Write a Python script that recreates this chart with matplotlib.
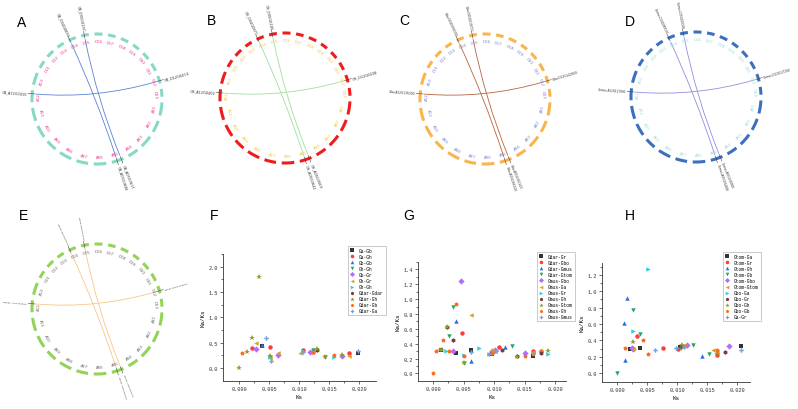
import numpy as np
import matplotlib
matplotlib.use("Agg")
import matplotlib.pyplot as plt
from matplotlib.path import Path
from matplotlib.patches import PathPatch

W, H = 798, 410

# ---- circos data (shared layout) ----
chrom_names = ["A01", "A02", "A03", "A04", "A05", "A06", "A07", "A08", "A09", "A10", "A11", "A12", "A13",
               "D01", "D02", "D03", "D04", "D05", "D06", "D07", "D08", "D09", "D10", "D11", "D12", "D13"]
chrom_sizes = [118, 108, 113, 96, 109, 112, 106, 114, 98, 112, 118, 107, 110,
               70, 72, 66, 68, 70, 71, 68, 72, 66, 70, 73, 68, 70]

# segmental duplication links: (chrom1, pos1, chrom2, pos2) in Mb
link_pairs = [("D04", 11, "A05", 60), ("D05", 29, "A05", 20), ("A12", 76, "D12", 44)]

genes_A = ["GB_D04G0893", "GB_A05G3698", "GB_D05G0197", "GB_A05G3617", "GB_A12G0410", "GB_D12G0414"]
genes_B = ["GH_D04G0871", "GH_A05G3641", "GH_D05G0185", "GH_A05G3569", "GH_A12G0402", "GH_D12G0408"]
genes_C = ["Gdar.D04G090300", "Gdar.A05G365200", "Gdar.D05G019700", "Gdar.A05G361400",
           "Gdar.A12G136300", "Gdar.D12G142800"]
genes_D = ["Gomus.D04G089100", "Gomus.A05G364800", "Gomus.D05G019300", "Gomus.A05G360900",
           "Gomus.A12G127800", "Gomus.D12G127200"]
genes_E = ["Gotom.D04G090100", "Gotom.A05G366000", "Gotom.D05G019500", "Gotom.A05G362100",
           "Gotom.A12G128300", "Gotom.D12G128200"]

# ---- Ka/Ks data ----
F_labels = ["Ga-Gb", "Ga-Gh", "Gb-Gb", "Gh-Gh", "Gb-Gr", "Gh-Gr", "Gh-Gh",
            "Gdar-Gdar", "Gdar-Gh", "Gdar-Gb", "Gdar-Ga"]
F_ks = [[0.0039, 0.0198],
        [0.0022, 0.0052, 0.0107, 0.0124, 0.0184],
        [0.0039],
        [0.0052, 0.0124, 0.0144],
        [0.0028, 0.0065, 0.0118, 0.0171],
        [0.0028, 0.0052, 0.0065, 0.0101, 0.0184],
        [0.0052, 0.0107, 0.0158],
        [0.0130],
        [0.0, 0.0013, 0.0022, 0.0033, 0.0052, 0.0130, 0.0144, 0.0171],
        [0.00055, 0.0124, 0.0158],
        [0.0045, 0.0053, 0.0107, 0.0198]]
F_kaks = [[0.43, 0.29],
          [0.40, 0.41, 0.36, 0.32, 0.29],
          [0.46],
          [0.22, 0.35, 0.22],
          [0.38, 0.26, 0.31, 0.23],
          [0.50, 0.20, 0.29, 0.30, 0.23],
          [0.22, 0.33, 0.22],
          [0.35],
          [0.0, 0.31, 0.60, 1.80, 0.23, 0.38, 0.22, 0.26],
          [0.30, 0.31, 0.26],
          [0.60, 0.14, 0.31, 0.33]]

G_labels = ["Gdar-Gr", "Gdar-Gbo", "Gdar-Gmus", "Gdar-Gtom", "Gmus-Gbo", "Gmus-Ga", "Gmus-Gr",
            "Gmus-Gh", "Gmus-Gtom", "Gmus-Gh", "Gmus-Gmus"]
G_ks = [[0.0013, 0.0038, 0.0062, 0.0096, 0.0164],
        [0.0048, 0.0096, 0.0108, 0.0164, 0.0177],
        [0.0037, 0.0063, 0.0118],
        [0.0027, 0.0032, 0.0050, 0.0129],
        [0.0032, 0.0046, 0.0096, 0.0102, 0.0151],
        [0.0062, 0.0096, 0.0164, 0.0176],
        [0.0021, 0.0050, 0.0075, 0.0092, 0.0189],
        [0.0023, 0.0033, 0.0113, 0.0138, 0.0177],
        [0.0011, 0.0015, 0.0023, 0.0050, 0.0103, 0.0138, 0.0189],
        [0.0, 0.00055, 0.0016, 0.0026, 0.0037, 0.0050, 0.0096, 0.0151, 0.0164],
        [0.0062, 0.0092, 0.0103, 0.0164]]
G_kaks = [[0.31, 0.28, 0.31, 0.26, 0.23],
          [0.54, 0.28, 0.35, 0.30, 0.30],
          [0.71, 0.17, 0.35],
          [0.50, 0.90, 0.14, 0.37],
          [0.30, 1.25, 0.30, 0.31, 0.28],
          [0.78, 0.31, 0.29, 0.30],
          [0.30, 0.25, 0.34, 0.26, 0.26],
          [0.62, 0.45, 0.31, 0.24, 0.28],
          [0.31, 0.31, 0.62, 0.14, 0.29, 0.22, 0.30],
          [0.0, 0.30, 0.45, 0.30, 0.94, 0.23, 0.27, 0.24, 0.26],
          [0.29, 0.26, 0.30, 0.27]]

H_labels = ["Gtom-Ga", "Gtom-Gr", "Gtom-Gh", "Gtom-Gb", "Gtom-Gbo", "Gtom-Gtom", "Gbo-Ga",
            "Gbo-Gr", "Gbo-Gh", "Gbo-Gb", "Ga-Gr"]
H_ks = [[0.0022, 0.0039, 0.0105, 0.0206],
        [0.0033, 0.0076, 0.0102, 0.0167],
        [0.0011, 0.0013, 0.0016, 0.0141],
        [0.0, 0.0027, 0.0039, 0.0106, 0.0126, 0.0154],
        [0.0025, 0.0027, 0.0116, 0.0186],
        [0.0026, 0.0111, 0.0160, 0.0167],
        [0.0027, 0.0051],
        [0.0108, 0.0180],
        [0.0027, 0.0109, 0.0167],
        [0.0013, 0.0044, 0.0052, 0.0111, 0.0167],
        [0.0064, 0.0099, 0.0112, 0.0206]]
H_kaks = [[0.30, 0.31, 0.32, 0.33],
          [0.46, 0.31, 0.29, 0.22],
          [0.61, 0.16, 0.92, 0.21],
          [0.0, 0.77, 0.48, 0.31, 0.34, 0.23],
          [0.31, 0.30, 0.35, 0.33],
          [0.30, 0.33, 0.28, 0.26],
          [0.51, 1.27],
          [0.33, 0.26],
          [0.38, 0.35, 0.24],
          [0.31, 0.40, 0.23, 0.33, 0.28],
          [0.28, 0.31, 0.32, 0.28]]

series_colors = ["#333333", "#ff3b3b", "#2b6fe6", "#20a862", "#b46cff", "#d8a21c",
                 "#22d2e4", "#7d3c3c", "#8f9a28", "#ff6a1a", "#72a2e2"]
series_markers = ["s", "o", "^", "v", "D", "<", ">", "h", "*", "p", "P"]

MONO = "Liberation Mono"
gap_deg = 5.0
start_deg = -3.0
R = 65

fig = plt.figure(figsize=(W / 100, H / 100), dpi=100)


def px_axes(x0, y0, x1, y1):
    return fig.add_axes([x0 / W, 1 - y1 / H, (x1 - x0) / W, (y1 - y0) / H])


def chrom_layout():
    k = (360 - gap_deg * len(chrom_names)) / sum(chrom_sizes)
    starts = {}
    a = start_deg
    for name, size in zip(chrom_names, chrom_sizes):
        starts[name] = a
        a -= size * k + gap_deg
    return starts, k


def circos(cx, cy, ring_color, label_color, link_color, genes, gene_fs):
    s = 115
    ax = px_axes(cx - s, cy - s, cx + s, cy + s)
    ax.set_xlim(-s, s)
    ax.set_ylim(-s, s)
    ax.axis("off")
    starts, k = chrom_layout()
    for name, size in zip(chrom_names, chrom_sizes):
        a0 = starts[name]
        a1 = a0 - size * k
        th = np.radians(np.linspace(a0, a1, 40))
        ax.plot(R * np.cos(th), R * np.sin(th), color=ring_color, lw=2.2, solid_capstyle="butt")
        am = (a0 + a1) / 2
        rad = np.radians(am)
        rot = am - 90 if np.sin(rad) >= -0.05 else am + 90
        ax.text((R - 7) * np.cos(rad), (R - 7) * np.sin(rad), name, color=label_color,
                fontsize=2.9, ha="center", va="center", rotation=rot, rotation_mode="anchor")

    def ang(name, pos):
        return starts[name] - pos * k

    rl = R - 4
    gi = 0
    for c1, p1, c2, p2 in link_pairs:
        t1 = np.radians(ang(c1, p1))
        t2 = np.radians(ang(c2, p2))
        verts = [(rl * np.cos(t1), rl * np.sin(t1)), (0, 0), (rl * np.cos(t2), rl * np.sin(t2))]
        path = Path(verts, [Path.MOVETO, Path.CURVE3, Path.CURVE3])
        ax.add_patch(PathPatch(path, fc="none", ec=link_color, lw=0.6))
        for t in (t1, t2):
            c, sn = np.cos(t), np.sin(t)
            ax.plot([(R - 3) * c, (R + 4) * c], [(R - 3) * sn, (R + 4) * sn], color="#444444", lw=0.4)
            deg = np.degrees(t)
            if c >= 0:
                ax.text((R + 5) * c, (R + 5) * sn, genes[gi], fontsize=gene_fs, color="#333333",
                        rotation=deg, rotation_mode="anchor", ha="left", va="center")
            else:
                ax.text((R + 5) * c, (R + 5) * sn, genes[gi], fontsize=gene_fs, color="#333333",
                        rotation=deg + 180, rotation_mode="anchor", ha="right", va="center")
            gi += 1


def kaks_panel(rect, xlim, ylim, yticks, labels, ks, kaks, leg_xy):
    ax = px_axes(*rect)
    for i, lab in enumerate(labels):
        ax.plot(ks[i], kaks[i], ls="none", marker=series_markers[i], color=series_colors[i],
                ms=3.2 if series_markers[i] != "*" else 4.2, mew=0, label=lab)
    ax.set_xlim(*xlim)
    ax.set_ylim(*ylim)
    ax.set_xticks([0.0, 0.005, 0.010, 0.015, 0.020])
    ax.set_xticklabels(["0.000", "0.005", "0.010", "0.015", "0.020"])
    ax.set_xticks([0.0025, 0.0075, 0.0125, 0.0175], minor=True)
    ax.set_yticks(yticks)
    ax.set_yticklabels(["%.1f" % v for v in yticks])
    step = yticks[1] - yticks[0]
    ax.set_yticks([v + step / 2 for v in yticks], minor=True)
    for sp in ("top", "right"):
        ax.spines[sp].set_visible(False)
    for sp in ("left", "bottom"):
        ax.spines[sp].set_linewidth(0.6)
        ax.spines[sp].set_color("#333333")
    ax.tick_params(which="major", length=2, width=0.5, pad=1.5, labelsize=3.8, colors="#333333")
    ax.tick_params(which="minor", length=1.2, width=0.4)
    for t in ax.get_xticklabels() + ax.get_yticklabels():
        t.set_fontfamily(MONO)
    ax.set_xlabel("Ks", fontsize=4.2, family=MONO, labelpad=2)
    ax.set_ylabel("Ka/Ks", fontsize=4.2, family=MONO, labelpad=2)
    ax.patch.set_alpha(0)
    leg = ax.legend(loc="upper left", bbox_to_anchor=(leg_xy[0] / W, 1 - leg_xy[1] / H),
                    bbox_transform=fig.transFigure, borderaxespad=0, frameon=True, fancybox=False,
                    edgecolor="#b5b5b5", framealpha=1, prop={"family": MONO, "size": 3.3},
                    handlelength=0.9, handletextpad=1.0, labelspacing=0.22, borderpad=0.45,
                    markerscale=0.8)
    leg.get_frame().set_linewidth(0.5)
    return ax


circos(97, 100, "#86d9c6", "#e8368f", "#5b82d6", genes_A, 2.5)
circos(285, 99, "#f01c1c", "#f5c542", "#9ee09e", genes_B, 2.5)
circos(485, 100, "#f9b54c", "#7b7fc9", "#b8643f", genes_C, 2.1)
circos(696, 98, "#3d6fbf", "#96dcd6", "#8f8fe0", genes_D, 2.0)
circos(97, 310, "#93d35a", "#666666", "#f7c68a", genes_E, 1.75)

kaks_panel((223, 255, 376, 382), (-0.00267, 0.02283), (-0.2545, 2.055),
           [0.0, 0.5, 1.0, 1.5, 2.0], F_labels, F_ks, F_kaks, (348, 247))
kaks_panel((418, 263, 566, 382), (-0.00246, 0.0218), (-0.103, 1.426),
           [0.0, 0.2, 0.4, 0.6, 0.8, 1.0, 1.2, 1.4], G_labels, G_ks, G_kaks, (537, 253))
kaks_panel((602, 264, 750, 383), (-0.0025, 0.02217), (-0.107, 1.345),
           [0.0, 0.2, 0.4, 0.6, 0.8, 1.0, 1.2], H_labels, H_ks, H_kaks, (723, 253))

for letter, x, y in [("A", 22, 23), ("B", 211, 21), ("C", 404, 21), ("D", 630, 22),
                     ("E", 23, 216), ("F", 214, 216), ("G", 409, 216), ("H", 630, 216)]:
    fig.text(x / W, 1 - y / H, letter, fontsize=10, family="Liberation Sans",
             ha="center", va="center")

fig.savefig("out.png", dpi=100)
